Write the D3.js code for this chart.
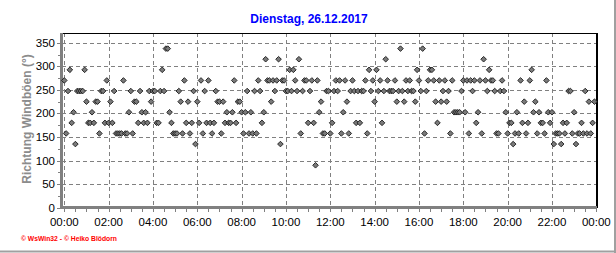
<!DOCTYPE html>
<html><head><meta charset="utf-8">
<script src="https://cdn.jsdelivr.net/npm/d3@7/dist/d3.min.js"></script>
<style>
html,body{margin:0;padding:0;background:#fff;}
svg{display:block;}
text{font-family:"Liberation Sans",Arial,sans-serif;}
</style></head><body>
<svg id="c" width="616" height="253"></svg>
<script>
// ---- data ----
const title = "Dienstag, 26.12.2017";
const yTitle = "Richtung Windböen (°)";
const footer = "© WsWin32  -  © Heiko Blödorn";
const intervalMinutes = 5;
// wind gust direction (degrees), one reading every 5 minutes from 00:00
const direction = [
270,157.5,247.5,292.5,180,202.5,135,247.5,247.5,247.5,
247.5,292.5,225,180,180,202.5,180,225,225,157.5,
247.5,247.5,180,270,180,225,180,247.5,157.5,157.5,
157.5,157.5,270,157.5,157.5,202.5,247.5,157.5,225,225,
180,247.5,202.5,180,202.5,180,247.5,225,247.5,247.5,
180,180,247.5,292.5,247.5,337.5,337.5,202.5,180,157.5,
157.5,157.5,247.5,225,157.5,270,180,225,157.5,180,
247.5,135,225,180,270,157.5,247.5,180,270,180,
157.5,180,247.5,225,225,157.5,225,180,202.5,180,
180,202.5,270,180,225,225,202.5,157.5,202.5,247.5,
157.5,202.5,157.5,247.5,157.5,270,247.5,180,202.5,315,
270,270,225,270,247.5,270,315,135,270,270,
247.5,247.5,292.5,247.5,292.5,270,247.5,315,157.5,247.5,
270,270,180,247.5,270,180,90,270,202.5,225,
157.5,157.5,247.5,247.5,157.5,180,247.5,270,247.5,270,
157.5,202.5,270,225,157.5,247.5,270,247.5,180,247.5,
180,247.5,247.5,270,157.5,292.5,247.5,270,225,292.5,
247.5,270,180,247.5,315,270,247.5,247.5,247.5,270,
225,247.5,337.5,247.5,225,270,247.5,270,247.5,247.5,
225,292.5,270,247.5,337.5,157.5,247.5,270,292.5,292.5,
270,225,180,270,225,247.5,270,225,247.5,157.5,
270,202.5,202.5,202.5,202.5,247.5,270,202.5,270,157.5,
270,247.5,270,180,202.5,270,157.5,315,270,247.5,
292.5,270,270,247.5,157.5,157.5,247.5,270,247.5,202.5,
157.5,180,180,135,157.5,202.5,157.5,270,180,225,
157.5,180,270,292.5,202.5,225,157.5,202.5,180,180,
157.5,270,202.5,180,202.5,135,157.5,157.5,157.5,135,
180,157.5,180,247.5,247.5,157.5,202.5,135,157.5,157.5,
180,157.5,247.5,157.5,225,157.5,180,225
];
const yTicks = [0,50,100,150,200,250,300,350];
const xTickHours = [0,2,4,6,8,10,12,14,16,18,20,22,24];
const xTickLabels = ["00:00","02:00","04:00","06:00","08:00","10:00","12:00","14:00","16:00","18:00","20:00","22:00","00:00"];

// ---- layout ----
const svg = d3.select("#c");
const plotL = 62, plotR = 597, plotT = 33.3, plotB = 207.7;
const x = d3.scaleLinear().domain([0, 24*60]).range([64.3, 596.3]);
const y = d3.scaleLinear().domain([0, 370]).range([plotB, plotT]);

// outer frame (right + bottom)
svg.append("line").attr("x1",615).attr("x2",615).attr("y1",0).attr("y2",253).attr("stroke","#a0a0a0").attr("stroke-width",2);
svg.append("line").attr("x1",0).attr("x2",616).attr("y1",251.5).attr("y2",251.5).attr("stroke","#a0a0a0").attr("stroke-width",2);

// grid
const gridG = svg.append("g").attr("stroke","#808080").attr("stroke-width",1).attr("stroke-dasharray","4,3").attr("shape-rendering","crispEdges");
yTicks.filter(v=>v>0).forEach(v=>{
  gridG.append("line").attr("x1",plotL).attr("x2",plotR).attr("y1",Math.round(y(v))+0.5).attr("y2",Math.round(y(v))+0.5);
});
xTickHours.filter(h=>h<24).forEach(h=>{
  gridG.append("line").attr("x1",Math.round(x(h*60))+0.5).attr("x2",Math.round(x(h*60))+0.5).attr("y1",plotT).attr("y2",plotB);
});

// top + right border
svg.append("line").attr("x1",plotL).attr("x2",plotR).attr("y1",33.5).attr("y2",33.5).attr("stroke","#000").attr("stroke-width",1).attr("shape-rendering","crispEdges");
svg.append("line").attr("x1",596.5).attr("x2",596.5).attr("y1",33).attr("y2",plotB).attr("stroke","#000").attr("stroke-width",2).attr("shape-rendering","crispEdges");

// axes (thick grey)
svg.append("line").attr("x1",61).attr("x2",61).attr("y1",33).attr("y2",209).attr("stroke","#808080").attr("stroke-width",3).attr("shape-rendering","crispEdges");
svg.append("line").attr("x1",59.5).attr("x2",597).attr("y1",207.5).attr("y2",207.5).attr("stroke","#808080").attr("stroke-width",3).attr("shape-rendering","crispEdges");

// x ticks every 30 min
const xt = svg.append("g").attr("stroke","#808080").attr("stroke-width",1).attr("shape-rendering","crispEdges");
d3.range(0, 24*60+1, 30).forEach(m=>{
  const px = Math.round(x(m))+0.5;
  xt.append("line").attr("x1",px).attr("x2",px).attr("y1",209).attr("y2",212);
});
// y ticks
d3.range(0, 351, 25).forEach(v=>{
  const py = Math.round(y(v))+0.5;
  xt.append("line").attr("x1",v%50===0?57:58).attr("x2",60).attr("y1",py).attr("y2",py);
});

// tick labels
svg.append("g").selectAll("text").data(xTickHours).join("text")
  .attr("x",h=>x(h*60)).attr("y",226).attr("text-anchor","middle")
  .attr("font-size","11.5px").attr("fill","#000").text((h,i)=>xTickLabels[i]);
svg.append("g").selectAll("text").data(yTicks).join("text")
  .attr("x",55).attr("y",v=>y(v)+4).attr("text-anchor","end")
  .attr("font-size","11.5px").attr("fill","#000").text(v=>v);

// title
svg.append("text").attr("x",309).attr("y",23).attr("text-anchor","middle")
  .attr("font-size","12px").attr("font-weight","bold").attr("fill","#0000ff").text(title);
// y title
svg.append("text").attr("transform","translate(31,119) rotate(-90)").attr("text-anchor","middle")
  .attr("font-size","12px").attr("font-weight","bold").attr("fill","#8c8c8c").text(yTitle);
// footer
svg.append("text").attr("x",21).attr("y",241).attr("font-size","7px").attr("font-weight","bold")
  .attr("fill","#ff0000").attr("textLength",96).attr("lengthAdjust","spacingAndGlyphs").text(footer);

// points
const pts = direction.map((v,i)=>({t:i*intervalMinutes, v}));
const s = 2.8;
svg.append("g").selectAll("path").data(pts).join("path")
  .attr("d",`M0,${-s}L${s},0L0,${s}L${-s},0Z`)
  .attr("transform",d=>`translate(${x(d.t)},${y(d.v)})`)
  .attr("fill","#7a7a7a").attr("stroke","#1a1a1a").attr("stroke-width",0.9);
</script></body></html>
